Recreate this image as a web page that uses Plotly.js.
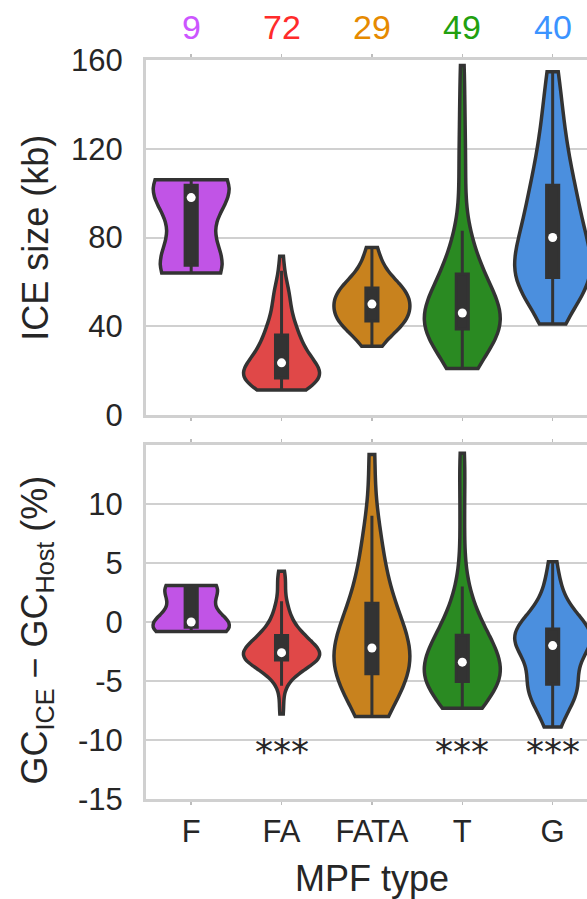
<!DOCTYPE html>
<html><head><meta charset="utf-8">
<script src="https://cdn.plot.ly/plotly-3.0.1.min.js"></script>
<style>html,body{margin:0;padding:0;background:#fff;} #chart{width:587px;height:899px;}</style>
</head><body><div id="chart"></div>
<script>
// ---------------- data ----------------
const categories = ['F', 'FA', 'FATA', 'T', 'G'];
const counts = [9, 72, 29, 49, 40];
const significance = ['', '***', '', '***', '***'];

// ICE size (kb)
const iceF = [64, 66, 68, 71, 98, 100, 103, 105, 106];
const iceFA = [11.3, 11.8, 12.2, 12.6, 13, 13.3, 13.6, 14, 14.3, 14.6, 14.9, 15.2, 15.5, 15.7, 16, 16.2, 16.4, 16.5,
  16.8, 17.1, 17.4, 17.7, 18, 18.4, 18.8, 19.2, 19.6, 20, 20.4, 20.8, 21.2, 21.6, 22, 22.4, 22.9, 23.3,
  23.7, 24.2, 24.8, 25.4, 26, 26.6, 27.2, 27.9, 28.6, 29.3, 30, 30.8, 31.6, 32.4, 33.2, 34, 34.8, 35.6,
  36.5, 37.5, 38.5, 39.5, 40.5, 41.5, 43, 44.5, 46, 48, 50, 52, 54, 56, 57, 58, 65, 71.5];
const iceFATA = [31, 34, 37, 39, 40, 41, 42, 42.5, 44, 45, 46, 47, 48, 49, 50, 51, 52, 53, 54, 55, 56, 57,
  58, 59, 61, 63, 66, 70, 75.5];
const iceT = [21, 24, 27, 29, 31, 33, 34, 35, 36, 37, 37.5, 38, 39,
  39.5, 40, 40.5, 41, 41.5, 42, 42.5, 43, 44, 44.5, 45, 46,
  47, 48, 49, 50, 51, 52, 54, 55, 57, 59, 61, 63,
  65, 67, 69, 72, 75, 79, 83, 102, 112, 125, 140, 157.5];
const iceG = [41, 50, 54, 56.5, 58, 59, 60, 60.5, 61, 61.5,
  62.5, 63.5, 65, 66.5, 68, 70, 72, 74, 77, 79,
  81, 83, 85, 87, 89, 92, 95, 97, 100, 102,
  105, 109, 113, 117, 121, 126, 132, 139, 147, 154.7];

// GC_ICE - GC_Host (%)
const gcF = [-0.8, -0.6, -0.4, -0.3, 0.0, 1.5, 2.9, 3.0, 3.1];
const gcFA = [-7.8, -6.9, -5.4, -5.0, -4.7, -4.4, -4.2, -4.0, -3.9, -3.8, -3.7, -3.6, -3.5, -3.45, -3.4, -3.35, -3.3, -3.25,
  -3.2, -3.15, -3.1, -3.05, -3.0, -2.95, -2.9, -2.87, -2.84, -2.81, -2.78, -2.75, -2.72, -2.7, -2.68, -2.66, -2.64, -2.62,
  -2.58, -2.5, -2.45, -2.4, -2.3, -2.2, -2.1, -2.0, -1.9, -1.8, -1.7, -1.6, -1.5, -1.45, -1.4, -1.3, -1.25, -1.2,
  -1.1, -1.0, -0.9, -0.8, -0.6, -0.4, -0.2, 0.0, 0.3, 0.6, 0.9, 1.2, 1.5, 1.75, 3.0, 3.4, 3.8, 4.3];
const gcFATA = [-8.0, -7.2, -6.6, -6.0, -5.5, -5.0, -4.6, -4.3,
  -3.9, -3.5, -3.2, -2.9, -2.7, -2.4, -2.2,
  -1.8, -1.3, -0.8, -0.3, 0.3, 0.9, 1.4,
  2.2, 3.2, 4.3, 5.6, 7.0, 9.0, 14.2];
const gcT = [-7.3, -7.0, -6.7, -6.4, -6.2, -6.0, -5.8, -5.6, -5.5, -5.4, -5.3, -5.15, -5.0,
  -4.9, -4.8, -4.7, -4.6, -4.5, -4.4, -4.3, -4.1, -3.9, -3.7, -3.55, -3.4,
  -3.2, -3.0, -2.8, -2.6, -2.4, -2.2, -2.0, -1.8, -1.6, -1.45, -1.3, -1.2,
  -0.9, -0.5, -0.1, 0.4, 1.0, 1.7, 2.4, 3.0, 6.0, 9.0, 12.0, 14.3];
const gcG = [-8.9, -8.2, -7.6, -7.0, -6.4, -6.1, -5.9, -5.7, -5.5, -5.35,
  -5.2, -5.0, -4.8, -4.3, -3.5, -2.8, -2.5, -2.3, -2.15, -2.05,
  -1.95, -1.8, -1.6, -1.45, -1.3, -1.15, -1.0, -0.9, -0.8, -0.7,
  -0.5, -0.3, -0.1, 0.2, 0.6, 1.1, 1.8, 2.6, 3.6, 5.1];

const iceTickVals = [0, 40, 80, 120, 160];
const iceTickText = ['0', '40', '80', '120', '160'];
const gcTickVals = [-15, -10, -5, 0, 5, 10];
const gcTickText = ['-15', '-10', '-5', '0', '5', '10'];

// ---------------- styles ----------------
const fillColors = ['#c154e6', '#e04848', '#c8821e', '#2a8a22', '#4b8fde'];
const textColors = ['#cc55ff', '#ff2b2b', '#e68a00', '#22a00f', '#3b93ff'];
const FONT = 'Liberation Sans, Arial, Helvetica, sans-serif';
const TXT = '#262626';
const GRID = '#d0d0d0';

const iceData = [iceF, iceFA, iceFATA, iceT, iceG];
const gcData = [gcF, gcFA, gcFATA, gcT, gcG];

function scottBw(a) {
  const n = a.length;
  const m = a.reduce((s, v) => s + v, 0) / n;
  const sd = Math.sqrt(a.reduce((s, v) => s + (v - m) * (v - m), 0) / (n - 1));
  return sd * Math.pow(n, -0.2);
}
function median(a) {
  const s = a.slice().sort((p, q) => p - q);
  const n = s.length;
  return n % 2 ? s[(n - 1) / 2] : (s[n / 2 - 1] + s[n / 2]) / 2;
}

const traces = [];
function addViolins(dataSets, xa, ya) {
  dataSets.forEach((vals, i) => {
    traces.push({
      type: 'violin',
      x: vals.map(() => categories[i]),
      y: vals,
      xaxis: xa, yaxis: ya,
      name: categories[i],
      spanmode: 'hard',
      bandwidth: scottBw(vals),
      scalemode: 'width',
      width: 0.84,
      points: false,
      fillcolor: fillColors[i],
      line: {color: '#333333', width: 3.5},
      box: {visible: true, width: 0.16, fillcolor: '#333333', line: {color: '#333333', width: 3}},
      meanline: {visible: false},
      hoverinfo: 'skip',
      showlegend: false
    });
  });
  traces.push({
    type: 'scatter', mode: 'markers',
    x: categories, y: dataSets.map(median),
    xaxis: xa, yaxis: ya,
    marker: {color: '#ffffff', size: 9, line: {width: 0}},
    hoverinfo: 'skip', showlegend: false
  });
}
addViolins(iceData, 'x', 'y');
addViolins(gcData, 'x2', 'y2');

const xBase = {
  type: 'category', categoryorder: 'array', categoryarray: categories,
  range: [-0.5, 4.38], showgrid: false, zeroline: false,
  showline: true, linecolor: GRID, linewidth: 3, mirror: 'ticks',
  ticks: 'outside', ticklen: 3, tickwidth: 1.5, tickcolor: '#bdbdbd',
  tickfont: {family: FONT, size: 31, color: TXT}, fixedrange: true
};
const yBase = {
  showgrid: true, gridcolor: GRID, gridwidth: 2, zeroline: false,
  showline: true, linecolor: GRID, linewidth: 3, mirror: false,
  ticks: '', ticklabelstandoff: 14,
  tickfont: {family: FONT, size: 31, color: TXT}, fixedrange: true
};

const annotations = [];
categories.forEach((c, i) => {
  annotations.push({
    x: c, xref: 'x', y: 1, yref: 'paper', yshift: 33, yanchor: 'middle', xanchor: 'center',
    text: String(counts[i]), showarrow: false,
    font: {family: FONT, size: 34, color: textColors[i]}
  });
  if (significance[i]) {
    annotations.push({
      x: c, xref: 'x2', y: -11.0, yref: 'y2', yanchor: 'middle', xanchor: 'center',
      text: significance[i], showarrow: false,
      font: {family: 'DejaVu Sans, sans-serif', size: 36, color: TXT}
    });
  }
});
annotations.push({
  x: 0.5125, xref: 'paper', y: -0.107, yref: 'paper', xanchor: 'center', yanchor: 'middle',
  text: 'MPF type', showarrow: false, font: {family: FONT, size: 36, color: TXT}
});
annotations.push({
  x: -0.2494, xref: 'paper', y: 0.7596, yref: 'paper', xanchor: 'center', yanchor: 'middle',
  text: 'ICE size (kb)', textangle: -90, showarrow: false, font: {family: FONT, size: 36, color: TXT}
});
annotations.push({
  x: -0.2494, xref: 'paper', y: 0.228, yref: 'paper', xanchor: 'center', yanchor: 'middle',
  text: 'GC<sub>ICE</sub> − GC<sub>Host</sub> (%)', textangle: -90, showarrow: false,
  font: {family: FONT, size: 36, color: TXT}
});

const layout = {
  width: 587, height: 899,
  margin: {l: 146, r: 0, t: 60, b: 100, pad: 0},
  paper_bgcolor: '#ffffff', plot_bgcolor: '#ffffff',
  showlegend: false,
  violinmode: 'overlay',
  xaxis: Object.assign({}, xBase, {anchor: 'y', showticklabels: false}),
  yaxis: Object.assign({}, yBase, {domain: [0.5196, 1], range: [0, 160], tickvals: iceTickVals, ticktext: iceTickText}),
  xaxis2: Object.assign({}, xBase, {anchor: 'y2', showticklabels: true}),
  yaxis2: Object.assign({}, yBase, {domain: [0, 0.479], range: [-15, 15], tickvals: gcTickVals, ticktext: gcTickText}),
  annotations: annotations
};

Plotly.newPlot('chart', traces, layout, {staticPlot: true, displayModeBar: false});
</script>
</body></html>
